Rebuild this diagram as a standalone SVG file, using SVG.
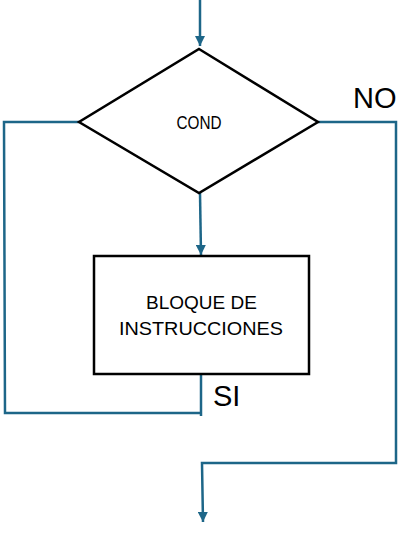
<svg xmlns="http://www.w3.org/2000/svg" width="419" height="534" viewBox="0 0 419 534">
<style>
.conn{fill:none;stroke:#1d6688;stroke-width:2.5}
.shape{fill:#fff;stroke:#000;stroke-width:2.5}
.t{font-family:"Liberation Sans",Arial,sans-serif;fill:#000}
</style>
<defs>
<marker id="arr" viewBox="0 0 10 10" refX="10" refY="5" markerWidth="10" markerHeight="10" markerUnits="userSpaceOnUse" orient="auto">
<path d="M0,0 L10,5 L0,10 Z" fill="#1d6688"/>
</marker>
</defs>
<g id="connectors">
<path class="conn" d="M200,0 L200,46" marker-end="url(#arr)"/>
<path class="conn" d="M200,193 L201,255" marker-end="url(#arr)"/>
<path class="conn" d="M79,122 L4,122 L5,413 L201,413"/>
<path class="conn" d="M201,374 L201,416"/>
<path class="conn" d="M318,122 L396,122 L396,463 L202,463 L203,522" marker-end="url(#arr)"/>
</g>
<g id="cond">
<polygon class="shape" points="199,49 318,122 199,193 79,122"/>
<text class="t" x="199" y="129" font-size="19" text-anchor="middle" textLength="45" lengthAdjust="spacingAndGlyphs">COND</text>
</g>
<g id="bloque">
<rect class="shape" x="94" y="256" width="215" height="118"/>
<text class="t" x="201.5" y="309" font-size="19" text-anchor="middle">BLOQUE DE</text>
<text class="t" x="201" y="335" font-size="19" text-anchor="middle" textLength="164" lengthAdjust="spacingAndGlyphs">INSTRUCCIONES</text>
</g>
<text class="t" x="353" y="108" font-size="29">NO</text>
<text class="t" x="213" y="406" font-size="29">SI</text>
</svg>
